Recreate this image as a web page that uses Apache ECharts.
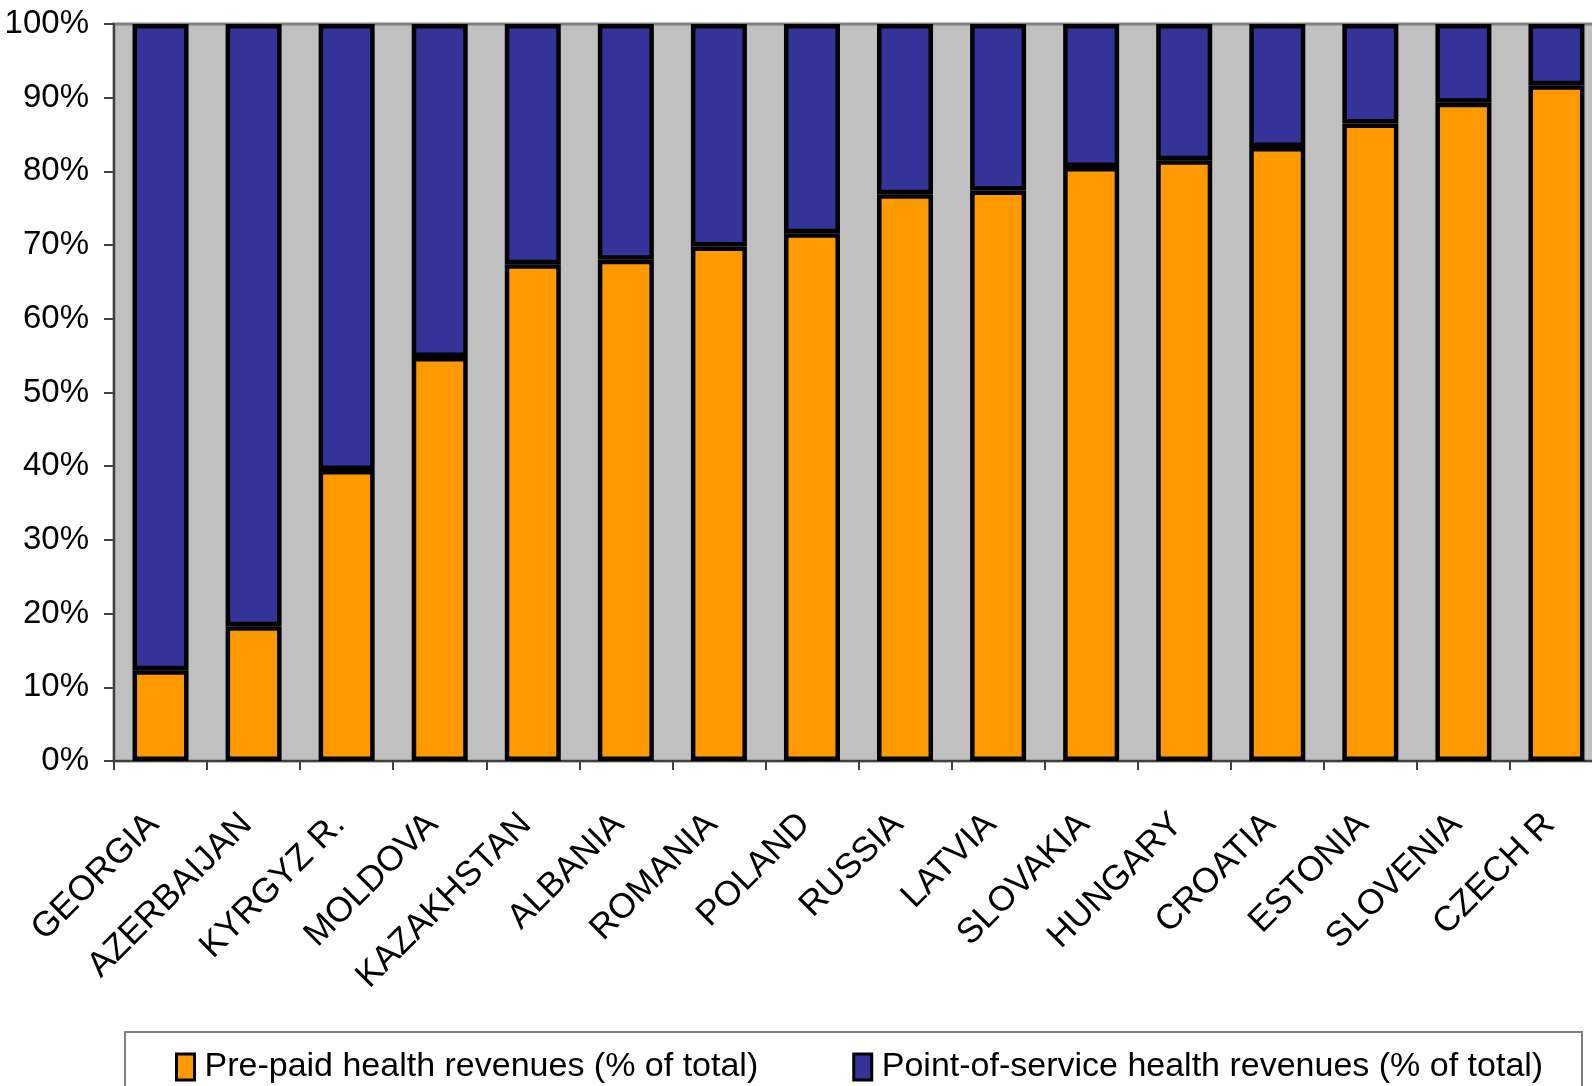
<!DOCTYPE html>
<html>
<head>
<meta charset="utf-8">
<script src="https://cdn.jsdelivr.net/npm/echarts@6/dist/echarts.min.js"></script>
<style>
html,body{margin:0;padding:0;background:#fff;}
#c{width:1592px;height:1086px;}
</style>
</head>
<body>
<div id="c"></div>
<script>
var countries = ['GEORGIA','AZERBAIJAN','KYRGYZ R.','MOLDOVA','KAZAKHSTAN','ALBANIA','ROMANIA','POLAND','RUSSIA','LATVIA','SLOVAKIA','HUNGARY','CROATIA','ESTONIA','SLOVENIA','CZECH R'];
var prePaid = [12.3, 18.3, 39.5, 54.8, 67.4, 68.0, 69.8, 71.6, 76.9, 77.4, 80.6, 81.5, 83.3, 86.5, 89.3, 91.7];
var pointOfService = [87.7, 81.7, 60.5, 45.2, 32.6, 32.0, 30.2, 28.4, 23.1, 22.6, 19.4, 18.5, 16.7, 13.5, 10.7, 8.3];
var seriesNames = ['Pre-paid health revenues (% of total)', 'Point-of-service health revenues (% of total)'];

var FONT = "'Liberation Sans', Arial, sans-serif";
var chart = echarts.init(document.getElementById('c'), null, {renderer:'canvas'});
chart.setOption({
  animation:false,
  backgroundColor:'#ffffff',
  textStyle:{fontFamily:FONT},
  grid:{left:114, right:-11, top:24, bottom:325, outerBoundsMode:'none', containLabel:false,
        show:true, backgroundColor:'#c0c0c0', borderColor:'#808080', borderWidth:3},
  graphic:[{type:'rect', z:-1, shape:{x:125,y:1032,width:1457,height:80}, style:{fill:'#fff', stroke:'#808080', lineWidth:2}}],
  legend:{
    left:175, top:1050, padding:0, itemGap:94, itemWidth:18, itemHeight:26,
    icon:'rect',
    itemStyle:{borderWidth:3, borderColor:'#000'},
    textStyle:{fontFamily:FONT, fontSize:34, color:'#000', padding:[0,0,0,5]},
    data:seriesNames
  },
  xAxis:{
    type:'category', data:countries,
    axisLine:{lineStyle:{color:'#404040', width:2}},
    axisTick:{show:true, interval:0, length:9, lineStyle:{color:'#404040', width:2}},
    axisLabel:{interval:0, rotate:45, margin:51, padding:[0,10,0,0], fontSize:35, color:'#000', fontFamily:FONT}
  },
  yAxis:{
    type:'value', min:0, max:100, interval:10,
    axisLine:{show:true, lineStyle:{color:'#404040', width:2}},
    axisTick:{show:true, length:10, lineStyle:{color:'#404040', width:2}},
    splitLine:{show:false},
    axisLabel:{formatter:'{value}%', margin:25, fontSize:33, color:'#000', fontFamily:FONT}
  },
  series:[
    {name:seriesNames[0], type:'bar', stack:'a', data:prePaid, barWidth:56,
     itemStyle:{color:'#ff9900', borderColor:'#000', borderWidth:4.5}},
    {name:seriesNames[1], type:'bar', stack:'a', data:pointOfService, barWidth:56,
     itemStyle:{color:'#333399', borderColor:'#000', borderWidth:4.5}}
  ]
});
</script>
</body>
</html>
